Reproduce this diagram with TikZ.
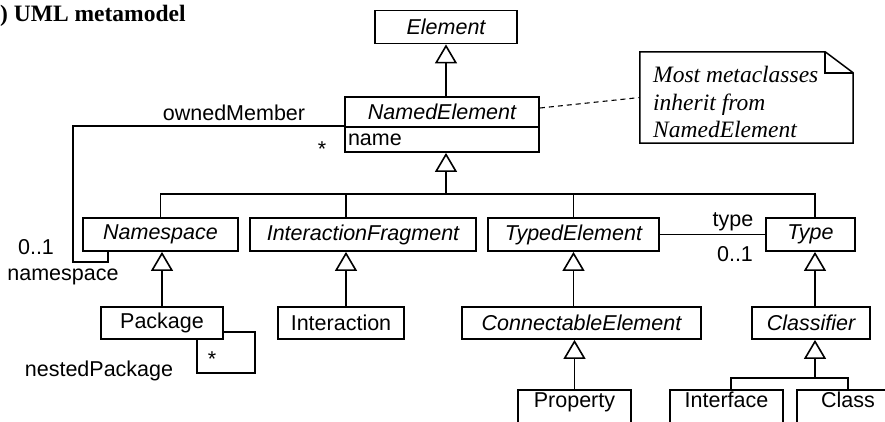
\documentclass[tikz,border=0pt]{standalone}
\usepackage{fontspec}
\setmainfont{Liberation Serif}
\setsansfont{Liberation Sans}
\usetikzlibrary{arrows.meta,calc}

\tikzset{
  metaclass/.style={draw, line width=1.8pt, inner sep=0pt, minimum height=33pt, font=\sffamily\fontsize{21.5}{24}\selectfont},
  abstract/.style={metaclass, font=\sffamily\itshape\fontsize{21.5}{24}\selectfont},
  cutbox/.style={metaclass, anchor=north, text height=18pt, text depth=32pt},
  inherit/.style={line width=1.6pt, -{Triangle[open, length=19pt, width=22pt]}},
  assoc/.style={line width=1.6pt},
  role/.style={inner sep=0pt, font=\sffamily\fontsize{21.5}{24}\selectfont},
}

\begin{document}
\begin{tikzpicture}[x=1pt,y=-1pt]
\useasboundingbox (0,0) rectangle (885,421);
\node[anchor=base west, inner sep=0pt, font=\bfseries\fontsize{23.5}{26}\selectfont] (title) at (0,21) {) UML metamodel};

% metaclasses
\node[abstract, minimum width=142pt] (elem) at (446,27) {Element};
\node[abstract, minimum width=194pt, minimum height=30pt] (named) at (442,112) {NamedElement};
\node[metaclass, minimum height=25pt, text width=188pt, inner xsep=3pt, align=left] (namedattr) at (442,139.5) {name};

\node[abstract, minimum width=155pt] (ns) at (160.5,234.5) {Namespace};
\node[abstract, minimum width=226pt] (ifrag) at (363,234.5) {InteractionFragment};
\node[abstract, minimum width=171pt] (typed) at (573.5,234.5) {TypedElement};
\node[abstract, minimum width=89pt] (type) at (810.5,234.5) {Type};

\node[metaclass, minimum width=122pt, minimum height=32pt] (pkg) at (162,323) {Package};
\node[metaclass, minimum width=126pt, minimum height=32pt] (inter) at (341,323) {Interaction};
\node[abstract, minimum width=239pt, minimum height=32pt] (conn) at (581.5,323) {ConnectableElement};
\node[abstract, minimum width=118pt, minimum height=32pt] (clsf) at (811,323) {Classifier};

\node[cutbox, minimum width=113pt] (prop) at (574.5,389) {Property};
\node[cutbox, minimum width=113pt] (iface) at (726.5,389) {Interface};
\node[cutbox, minimum width=102pt] (cls) at (848,389) {Class};

% note
\node[minimum width=213pt, minimum height=91pt, inner sep=0pt] (note) at (746.5,97.5) {};
\node[anchor=north west, inner sep=0pt, align=left, font=\itshape\fontsize{23.5}{27.5}\selectfont] (notetext) at (653,66) {Most metaclasses\\inherit from\\NamedElement};
\draw[line width=1.5pt] (note.south west) -- (note.north west) -- ([xshift=-28pt]note.north east) -- ([yshift=-21pt]note.north east) -- (note.south east) -- cycle;
\draw[line width=1.5pt] ([xshift=-28pt]note.north east) |- ([yshift=-21pt]note.north east);
\draw[line width=1.1pt, dash pattern=on 5pt off 4pt] ([yshift=4pt]named.east) -- (note.west);

% generalizations
\coordinate (bus) at (446,194);
\coordinate (typex) at (815,194);
\coordinate (ifragx) at (346,194);
\coordinate (clsbus) at (815,378);
\draw[inherit] (elem.south |- named.north) -- (elem.south);
\draw[inherit] (bus) -- (bus |- namedattr.south);
\draw[assoc] (ns.north) |- (typex) -- (typex |- type.north);
\draw[assoc] (ifragx) -- (ifragx |- ifrag.north);
\draw[assoc] (typed.north) -- (typed.north |- bus);
\draw[inherit] (pkg.north) -- (pkg.north |- ns.south);
\draw[inherit] (inter.north -| ifragx) -- (ifragx |- ifrag.south);
\draw[inherit] (conn.north -| typed.south) -- (typed.south);
\draw[inherit] (clsf.north -| typex) -- (typex |- type.south);
\draw[inherit] (prop.north) -- (prop.north |- conn.south);
\draw[inherit] (clsbus) -- (clsbus |- clsf.south);
\draw[assoc] ([xshift=4.5pt]iface.north) |- (clsbus) -| (cls.north);

% associations
\coordinate (ownL) at (73,262);
\coordinate (ownR) at (108,262);
\draw[assoc] (namedattr.north west) -| (ownL) -- (ownR) -- (ownR |- ns.south);
\node[role] (ownedlbl) at (234,113) {ownedMember};
\node[role] (ownedmul) at (322,149) {*};
\node[role] (nsmul) at (36,247) {0..1};
\node[role] (nslbl) at (63,277) {namespace};

\coordinate (nestR) at (255,373);
\coordinate (nestL) at (197,373);
\draw[assoc] ([yshift=-9pt]pkg.east) -| (nestR) -- (nestL) -- (nestL |- pkg.south);
\node[role] (nestmul) at (212,359) {*};
\node[role] (nestlbl) at (99,371) {nestedPackage};

\draw[assoc] (typed.east) -- (type.west);
\node[role] (typelbl) at (733,222) {type};
\node[role] (typemul) at (735,254) {0..1};
\end{tikzpicture}
\end{document}
